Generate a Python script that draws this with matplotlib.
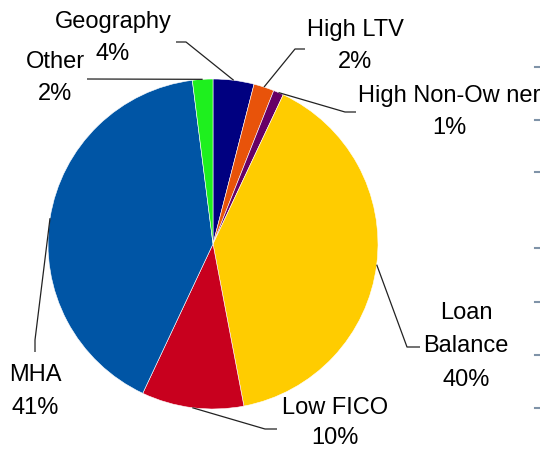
import numpy as np
import matplotlib
matplotlib.use("Agg")
import matplotlib.pyplot as plt

# ---- data ----
categories = ["Geography", "High LTV", "High Non-Ow ner", "Loan\nBalance", "Low FICO", "MHA", "Other"]
values = [4, 2, 1, 40, 10, 41, 2]
pct_labels = ["4%", "2%", "1%", "40%", "10%", "41%", "2%"]
colors = ["#000080", "#E8530A", "#660066", "#FFCC00", "#C8001E", "#0055A5", "#1EF01E"]

# ---- layout (pixel-like coordinates, y downward) ----
W, H = 540, 451
cx, cy, R = 213, 244, 165
label_top = [(113, 22), (355, 30), (449, 96), (466, 313), (335, 408), (35, 375), (55, 62)]
line_step = [32.5, 32.5, 32.5, 33.5, 30.5, 32.5, 32.5]
leader_pts = [
    [(186, 42), (176, 42)],
    [(295, 49), (305, 49)],
    [(345, 112), (356, 112)],
    [(407, 347), (420, 347)],
    [(265, 429), (277, 429)],
    [(35, 340), (35, 352)],
    [(87, 79)],
]
dash_y = [67, 120, 172, 248, 302, 355, 408]

plt.rcParams['font.family'] = ['Liberation Sans', 'DejaVu Sans']
fig = plt.figure(figsize=(W / 100, H / 100), dpi=100)
ax = fig.add_axes([0, 0, 1, 1])

ax.pie(values, colors=colors, startangle=-90, counterclock=True,
       center=(cx, cy), radius=R,
       wedgeprops=dict(linewidth=0.4, edgecolor="white"))
ax.set_xlim(0, W)
ax.set_ylim(H, 0)
ax.set_aspect('equal')
ax.axis('off')

# leader lines and labels
total = sum(values)
start = 90.0
for i, v in enumerate(values):
    span = 360.0 * v / total
    mid = np.deg2rad(start - span / 2)
    start -= span
    ax_pt = (cx + R * np.cos(mid), cy - R * np.sin(mid))
    pts = [ax_pt] + leader_pts[i]
    xs, ys = zip(*pts)
    ax.plot(xs, ys, color="#222222", lw=0.9, solid_capstyle="butt", zorder=5)
    lx, ly = label_top[i]
    lines = categories[i].split("\n") + [pct_labels[i]]
    for k, s in enumerate(lines):
        ax.text(lx, ly + k * line_step[i], s, ha="center", va="center",
                fontsize=17, color="black", zorder=6)

for y in dash_y:
    ax.plot([535, 540], [y, y], color="#7f93a8", lw=1.5, clip_on=False)

fig.savefig("out.png", dpi=100)
